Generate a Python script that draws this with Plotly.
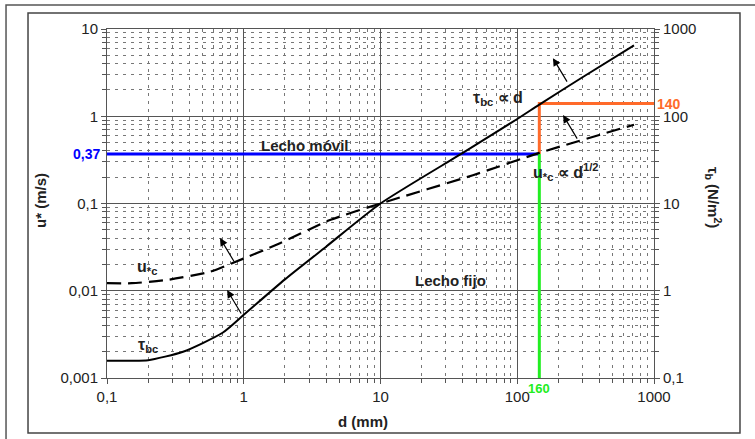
import numpy as np
import plotly.graph_objects as go

# ---- data ----
d_tau = [0.1, 0.15, 0.2, 0.36, 0.70, 1.0, 2.0, 4.0, 10, 40, 100, 145, 300, 714]
tau_bc = [0.158, 0.158, 0.160, 0.20, 0.33, 0.53, 1.35, 3.2, 10, 38, 93, 136, 280, 650]  # N/m2

d_u = [0.1, 0.152, 0.275, 0.566, 0.83, 1.84, 4.27, 10, 47.4, 145, 714]
u_c = [0.0122, 0.0122, 0.0133, 0.0165, 0.0208, 0.035, 0.0646, 0.1, 0.211, 0.38, 0.80]  # m/s

d_crit = 145
u_crit = 0.37
tau_crit = 140

x_ticks = [0.1, 1, 10, 100, 1000]
x_ticklabels = ["0,1", "1", "10", "100", "1000"]
yl_ticks = [0.001, 0.01, 0.1, 1, 10]
yl_ticklabels = ["0,001", "0,01", "0,1", "1", "10"]
yr_ticks = [0.1, 1, 10, 100, 1000]
yr_ticklabels = ["0,1", "1", "10", "100", "1000"]

FONT = "Liberation Sans, Arial, sans-serif"
TXT = "#222"

def minor_vals(decades):
    return [m * 10.0 ** e for e in decades for m in range(2, 10)]

fig = go.Figure()

# reference lines
fig.add_trace(go.Scatter(x=[0.1, d_crit], y=[u_crit, u_crit], mode="lines",
                         line=dict(color="#0000FF", width=3), yaxis="y", showlegend=False))
fig.add_trace(go.Scatter(x=[d_crit, d_crit, 1000], y=[u_crit, tau_crit / 100, tau_crit / 100], mode="lines",
                         line=dict(color="#FF6A2A", width=3), yaxis="y", showlegend=False))
fig.add_trace(go.Scatter(x=[d_crit, d_crit], y=[0.001, u_crit], mode="lines",
                         line=dict(color="#22EE22", width=3), yaxis="y", showlegend=False))

# curves
fig.add_trace(go.Scatter(x=d_u, y=u_c, mode="lines",
                         line=dict(color="black", width=2.2, dash="14px,7px", shape="spline", smoothing=0.6),
                         yaxis="y", showlegend=False))
fig.add_trace(go.Scatter(x=d_tau, y=tau_bc, mode="lines",
                         line=dict(color="black", width=2, shape="spline", smoothing=0.6),
                         yaxis="y2", showlegend=False))

def axis_common(minor_ticks):
    return dict(type="log", showline=True, linecolor="#555", linewidth=1,
                ticks="outside", ticklen=5, tickcolor="#555",
                showgrid=True, gridcolor="#555", gridwidth=1,
                minor=dict(tickmode="array", tickvals=minor_ticks, showgrid=True, gridcolor="#777",
                           griddash="3px,5px", gridwidth=1,
                           ticks="outside", ticklen=4, tickcolor="#555"),
                tickfont=dict(family=FONT, size=15, color=TXT), zeroline=False)

ax_x = axis_common(minor_vals([-1, 0, 1, 2]))
ax_yl = axis_common(minor_vals([-3, -2, -1, 0]))
ax_yr = axis_common(minor_vals([-1, 0, 1, 2]))
ax_yr["showgrid"] = False
ax_yr["minor"]["showgrid"] = False

fig.update_layout(
    width=755, height=439,
    margin=dict(l=107, r=101, t=29, b=61),
    paper_bgcolor="white", plot_bgcolor="white",
    xaxis=dict(range=[-1, 3], tickvals=x_ticks, ticktext=x_ticklabels, mirror=True, **ax_x),
    yaxis=dict(range=[-3, 1], tickvals=yl_ticks, ticktext=yl_ticklabels, **ax_yl),
    yaxis2=dict(range=[-1, 3], tickvals=yr_ticks, ticktext=yr_ticklabels, overlaying="y", side="right",
                **ax_yr),
    showlegend=False,
)

L = np.log10
ann = []
def txt(x, y, s, size=15, color=TXT, bold=True, **kw):
    if bold:
        s = "<b>" + s + "</b>"
    a = dict(x=x, y=y, text=s, showarrow=False, xanchor="center", yanchor="middle",
             font=dict(family=FONT, size=size, color=color))
    a.update(kw)
    ann.append(a)

# curve / region labels (data coords in log10)
txt(1.859, 0.207, "τ<sub>bc</sub> ∝ d", size=16)
txt(2.356, -0.640, "u<sub>*c</sub> ∝ d<sup>1/2</sup>", size=16)
txt(0.448, -0.33, "Lecho móvil", size=15)
txt(1.515, -1.877, "Lecho fijo", size=15)
txt(-0.707, -1.729, "u<sub>*c</sub>", size=16)
txt(-0.700, -2.622, "τ<sub>bc</sub>", size=16)

# value labels
txt(-0.009, L(u_crit), "0,37", size=14, color="#0000FF", xref="paper", xanchor="right")
txt(1.002, L(tau_crit / 100), "140", size=14, color="#FF6A2A", xref="paper", xanchor="left")
txt(L(d_crit), -0.0315, "160", size=13, color="#22EE22", yref="paper")

# axis titles
txt(-0.1225, 0.51, "u* (m/s)", size=15, xref="paper", yref="paper", textangle=-90)
txt(1.108, 0.519, "τ<sub>b</sub> (N/m<sup>2</sup>)", size=15, xref="paper", yref="paper", textangle=90)
txt(0.468, -0.126, "d (mm)", size=15, xref="paper", yref="paper")

# arrows
for hx, hy in [(2.261, 0.666), (2.335, 0.013), (-0.174, -1.396), (-0.122, -1.992)]:
    ann.append(dict(x=hx, y=hy, ax=15, ay=25, text="", showarrow=True, arrowhead=2,
                    arrowsize=1.3, arrowwidth=1.2, arrowcolor="black"))

fig.update_layout(annotations=ann)

# frames around the chart
fig.add_shape(type="rect", xref="paper", yref="paper", x0=-0.1846, x1=1.194, y0=-0.192, y1=1.0688,
              line=dict(color="#555", width=1.5), layer="below")
fig.add_shape(type="rect", xref="paper", yref="paper", x0=-0.1444, x1=1.1572, y0=-0.1576, y1=1.0458,
              line=dict(color="#444", width=1.5), layer="below")

fig.write_html("out.html", config={"displayModeBar": False},
               post_script="document.body.style.margin='0px';document.body.style.overflow='hidden';")
